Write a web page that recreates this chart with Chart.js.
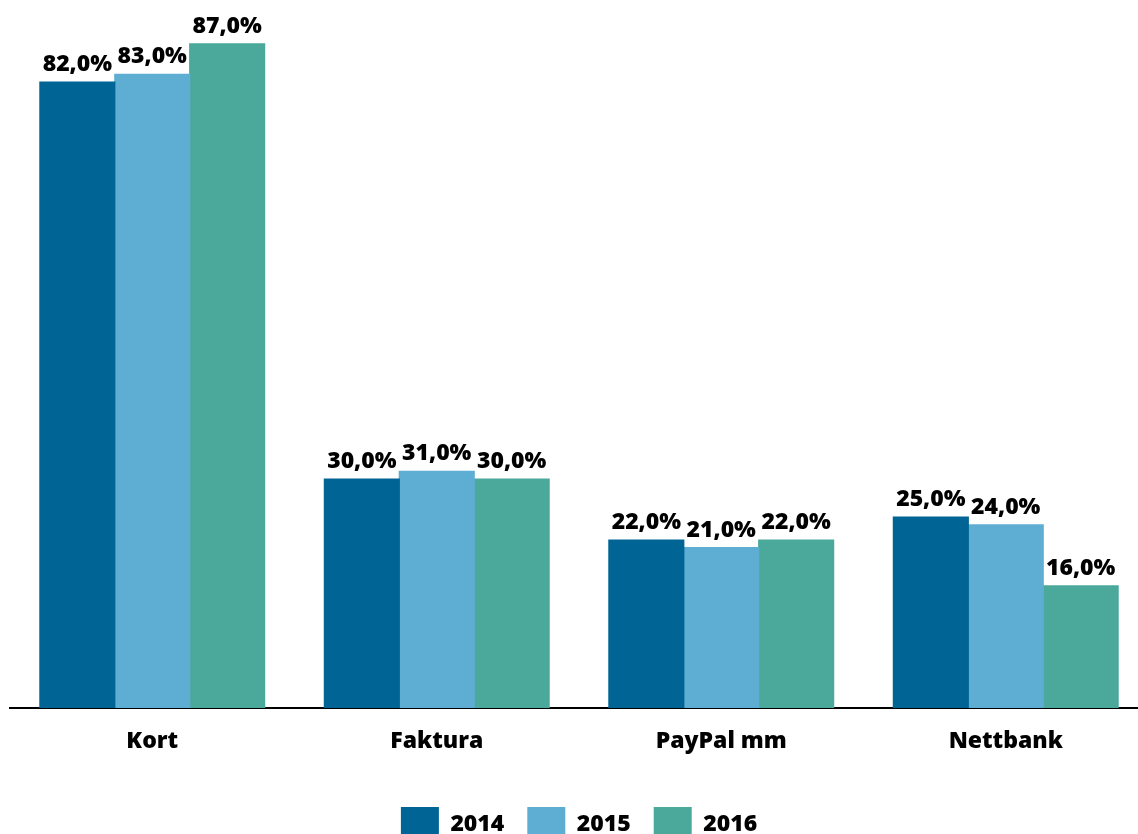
<!DOCTYPE html>
<html>
<head>
<meta charset="utf-8">
<script src="https://cdn.jsdelivr.net/npm/chart.js@4/dist/chart.umd.min.js"></script>
<style>
  html, body { margin: 0; padding: 0; background: #fff; overflow: hidden; }
  #wrap { width: 1155px; height: 851px; }
</style>
</head>
<body>
<div id="wrap"><canvas id="chart"></canvas></div>
<script>
const categories = ["Kort", "Faktura", "PayPal mm", "Nettbank"];
const years = ["2014", "2015", "2016"];
const values2014 = [82, 30, 22, 25];
const values2015 = [83, 31, 21, 24];
const values2016 = [87, 30, 22, 16];
const colors = ["#006595", "#5EADD3", "#4AA99B"];

const FONT = "'Open Sans', 'DejaVu Sans', sans-serif";

// labels above the bars, like "82,0%"
const barLabels = {
    id: 'barLabels',
    afterDatasetsDraw(chart) {
        const ctx = chart.ctx;
        ctx.save();
        ctx.font = `800 23px ${FONT}`;
        ctx.fillStyle = '#000';
        ctx.textAlign = 'center';
        ctx.textBaseline = 'alphabetic';
        chart.data.datasets.forEach((ds, i) => {
            chart.getDatasetMeta(i).data.forEach((bar, j) => {
                let txt = ds.data[j].toFixed(1).replace('.', ',') + '%';
                ctx.fillText(txt, bar.x, bar.y - 11);
            });
        });
        ctx.restore();
    }
};

let ctx = document.getElementById('chart');
let myChart = new Chart(ctx, {
    type: 'bar',
    data: {
        labels: categories,
        datasets: [
            { label: years[0], data: values2014, backgroundColor: colors[0] },
            { label: years[1], data: values2015, backgroundColor: colors[1] },
            { label: years[2], data: values2016, backgroundColor: colors[2] }
        ]
    },
    options: {
        responsive: true,
        maintainAspectRatio: false,
        animation: false,
        layout: {
            padding: { left: 10, right: 7, top: 21, bottom: 0 }
        },
        datasets: {
            bar: {
                categoryPercentage: 0.79,
                barPercentage: 1.0,
                borderWidth: 0,
                inflateAmount: 0.6
            }
        },
        scales: {
            x: {
                grid: { display: false },
                border: { display: true, color: '#000', width: 2 },
                ticks: {
                    color: '#000',
                    padding: 12,
                    font: { family: FONT, size: 23, weight: 800 }
                },
                afterFit(scale) { scale.height = 76; }
            },
            y: {
                display: false,
                min: 0,
                max: 90
            }
        },
        plugins: {
            legend: {
                position: 'bottom',
                labels: {
                    boxWidth: 38,
                    boxHeight: 34,
                    padding: 23,
                    color: '#000',
                    font: { family: FONT, size: 23, weight: 800 }
                }
            },
            tooltip: { enabled: false }
        }
    },
    plugins: [barLabels]
});
</script>
</body>
</html>
